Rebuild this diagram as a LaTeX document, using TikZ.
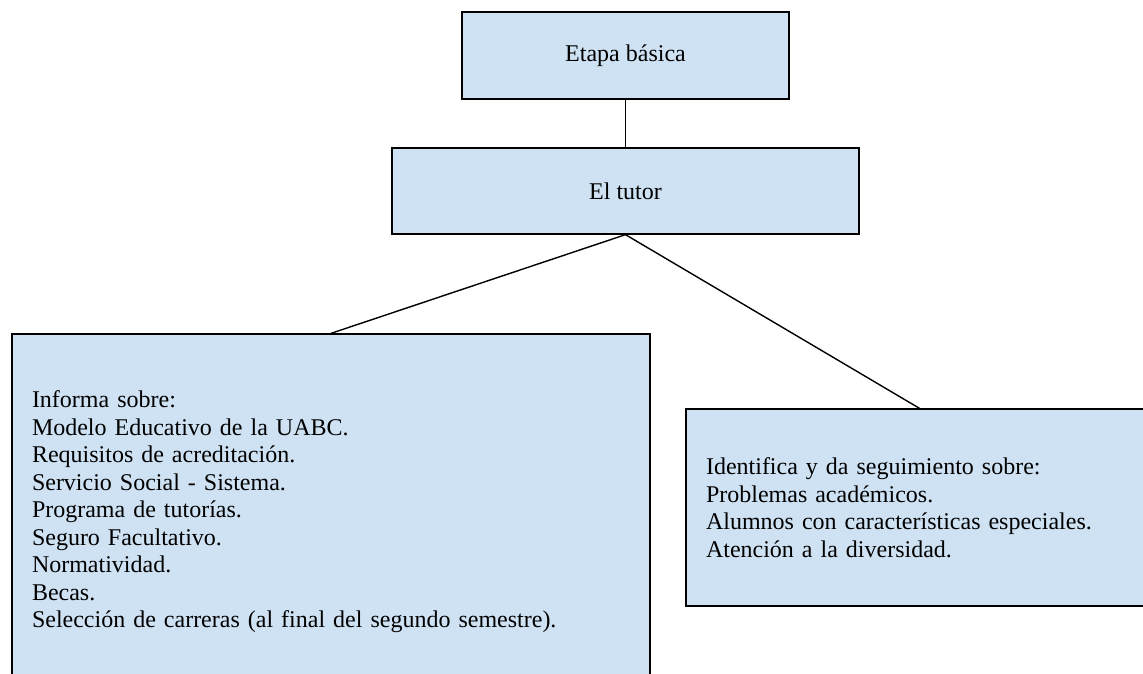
\documentclass[tikz,border=0pt]{standalone}
\usepackage{fontspec}
\setmainfont{Liberation Serif}
\definecolor{boxblue}{HTML}{CFE2F3}
\begin{document}
\begin{tikzpicture}[x=1pt,y=-1pt,
  box/.style={draw=black, line width=1.3pt, fill=boxblue, rectangle, inner sep=0pt,
    font=\fontsize{24}{27.5}\selectfont},
  textbox/.style={box, align=left, inner xsep=20pt, inner ysep=0pt},
  link/.style={draw=black, line width=1.4pt}]
\useasboundingbox (0,0) rectangle (1143,674);
\fill[white] (0,0) rectangle (1143,674);
\begin{scope}
\clip (0,0) rectangle (1143,674);
\node[box, minimum width=327pt, minimum height=87pt] (top) at (625.5,55.5) {Etapa básica};
\node[box, minimum width=467pt, minimum height=86pt] (tutor) at (625.5,191) {El tutor};
\node[textbox, text width=598pt, minimum height=356pt] (left) at (331,512) {Informa sobre:\\
Modelo Educativo de la UABC.\\
Requisitos de acreditación.\\
Servicio Social - Sistema.\\
Programa de tutorías.\\
Seguro Facultativo.\\
Normatividad.\\
Becas.\\
Selección de carreras (al final del segundo semestre).};
\node[textbox, text width=427pt, minimum height=197pt] (right) at (919.5,507.5) {Identifica y da seguimiento sobre:\\
Problemas académicos.\\
Alumnos con características especiales.\\
Atención a la diversidad.};
\draw[link] (top.south) -- (tutor.north);
\draw[link] (tutor.south) -- (left.north);
\draw[link] (tutor.south) -- (right.north);
\end{scope}
\end{tikzpicture}
\end{document}
